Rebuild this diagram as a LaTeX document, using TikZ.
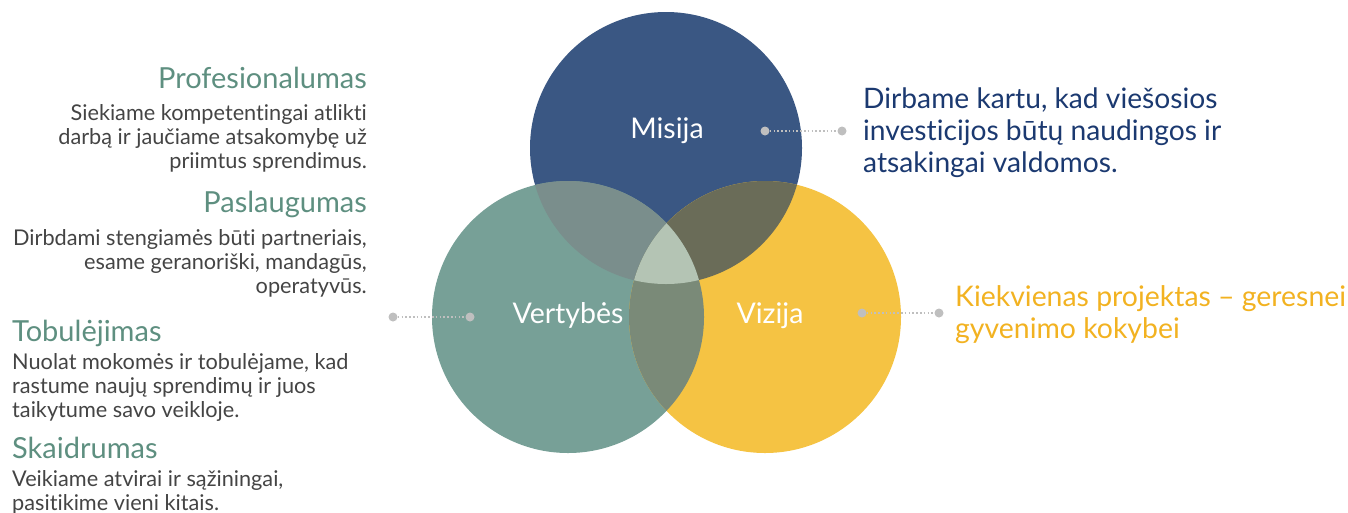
\documentclass[tikz,border=0pt]{standalone}
\usepackage{fontspec}
\setmainfont{Lato}[Ligatures=NoCommon]
\definecolor{cM}{HTML}{3A5783}
\definecolor{cV}{HTML}{77A097}
\definecolor{cZ}{HTML}{F5C343}
\definecolor{cMV}{HTML}{7A8E8C}
\definecolor{cMZ}{HTML}{6A6C58}
\definecolor{cVZ}{HTML}{7A8A78}
\definecolor{cMVZ}{HTML}{B4C4B4}
\definecolor{headgreen}{HTML}{5E8F80}
\definecolor{bodygray}{HTML}{444444}
\definecolor{navytext}{HTML}{1B3970}
\definecolor{yellowtext}{HTML}{F2B221}
\definecolor{dotgray}{HTML}{BFBFBF}
\tikzset{
  dotnode/.style={circle,fill=dotgray,inner sep=0pt,minimum size=9pt},
  conn/.style={draw=dotgray,line width=1.6pt,dash pattern=on 1.6pt off 2.2pt},
  circlabel/.style={text=white,font=\fontsize{28.5}{32}\selectfont,inner sep=0pt},
  headR/.style={anchor=base east,inner sep=0pt,text=headgreen,font=\fontsize{29}{32}\selectfont},
  headL/.style={anchor=base west,inner sep=0pt,text=headgreen,font=\fontsize{29}{32}\selectfont},
  bodyR/.style={anchor=base east,inner sep=0pt,text=bodygray,font=\fontsize{21.7}{24}\selectfont},
  bodyL/.style={anchor=base west,inner sep=0pt,text=bodygray,font=\fontsize{21.7}{24}\selectfont},
  misline/.style={anchor=base west,inner sep=0pt,text=navytext,font=\fontsize{28.2}{32}\selectfont},
  visline/.style={anchor=base west,inner sep=0pt,text=yellowtext,font=\fontsize{28.4}{32}\selectfont},
}
\begin{document}
\begin{tikzpicture}[x=1pt,y=-1pt]
\useasboundingbox (0,0) rectangle (1348,512);
\coordinate (M) at (666,148);
\coordinate (V) at (568,317);
\coordinate (Z) at (765,317);
\def\rr{136pt}
% circles
\fill[cM] (M) circle[radius=\rr];
\fill[cV] (V) circle[radius=\rr];
\fill[cZ] (Z) circle[radius=\rr];
\begin{scope}
  \clip (M) circle[radius=\rr];
  \fill[cMV] (V) circle[radius=\rr];
  \fill[cMZ] (Z) circle[radius=\rr];
\end{scope}
\begin{scope}
  \clip (V) circle[radius=\rr];
  \fill[cVZ] (Z) circle[radius=\rr];
\end{scope}
\begin{scope}
  \clip (M) circle[radius=\rr];
  \clip (V) circle[radius=\rr];
  \fill[cMVZ] (Z) circle[radius=\rr];
\end{scope}
% circle labels
\node[circlabel,anchor=base] (misija) at (667,138) {Misija};
\node[circlabel,anchor=base] (vertybes) at (568,323) {Vertybės};
\node[circlabel,anchor=base] (vizija) at (770,323) {Vizija};
% connectors
\node[dotnode] (m1) at (765,131) {};
\node[dotnode] (m2) at (842,131) {};
\draw[conn] (m1) -- (m2);
\node[dotnode] (v1) at (393,317) {};
\node[dotnode] (v2) at (470,317) {};
\draw[conn] (v1) -- (v2);
\node[dotnode] (z1) at (862,313) {};
\node[dotnode] (z2) at (939,313) {};
\draw[conn] (z1) -- (z2);
% mission text
\node[misline] (mt1) at (863,108) {Dirbame kartu, kad viešosios};
\node[misline] (mt2) at (863,140) {investicijos būtų naudingos ir};
\node[misline] (mt3) at (863,172) {atsakingai valdomos.};
% vision text
\node[visline] (vt1) at (955,306) {Kiekvienas projektas – geresnei};
\node[visline] (vt2) at (955,338) {gyvenimo kokybei};
% values
\node[headR] (h1) at (367,88) {Profesionalumas};
\node[bodyR] (b11) at (367,120) {Siekiame kompetentingai atlikti};
\node[bodyR] (b12) at (367,144) {darbą ir jaučiame atsakomybę už};
\node[bodyR] (b13) at (367,168) {priimtus sprendimus.};
\node[headR] (h2) at (367,212) {Paslaugumas};
\node[bodyR] (b21) at (367,245) {Dirbdami stengiamės būti partneriais,};
\node[bodyR] (b22) at (367,269) {esame geranoriški, mandagūs,};
\node[bodyR] (b23) at (367,293) {operatyvūs.};
\node[headL] (h3) at (12,341) {Tobulėjimas};
\node[bodyL] (b31) at (12,369) {Nuolat mokomės ir tobulėjame, kad};
\node[bodyL] (b32) at (12,393) {rastume naujų sprendimų ir juos};
\node[bodyL] (b33) at (12,417) {taikytume savo veikloje.};
\node[headL] (h4) at (12,458) {Skaidrumas};
\node[bodyL] (b41) at (12,486) {Veikiame atvirai ir sąžiningai,};
\node[bodyL] (b42) at (12,510) {pasitikime vieni kitais.};
\end{tikzpicture}
\end{document}
